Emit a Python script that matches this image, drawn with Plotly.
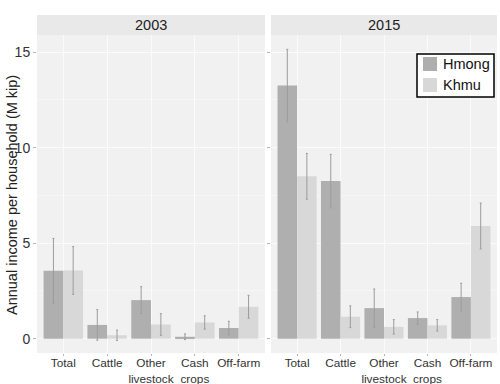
import plotly.graph_objects as go
from plotly.subplots import make_subplots

categories = ["Total", "Cattle", "Other<br>livestock", "Cash<br>crops", "Off-farm"]
years = ["2003", "2015"]
groups = ["Hmong", "Khmu"]

hmong_2003 = [3.55, 0.72, 2.02, 0.1, 0.56]
hmong_2003_err = [1.7, 0.8, 0.7, 0.15, 0.35]
khmu_2003 = [3.57, 0.18, 0.74, 0.85, 1.67]
khmu_2003_err = [1.25, 0.27, 0.57, 0.35, 0.6]

hmong_2015 = [13.25, 8.25, 1.6, 1.08, 2.18]
hmong_2015_err = [1.9, 1.4, 1.0, 0.32, 0.72]
khmu_2015 = [8.5, 1.15, 0.62, 0.7, 5.9]
khmu_2015_err = [1.2, 0.57, 0.38, 0.3, 1.2]

HM_COL = "#afafaf"
KH_COL = "#d8d8d8"
ERR_COL = "#9c9c9c"
PANEL_BG = "#f1f1f1"
STRIP_BG = "#e9e9e9"
FONT = "Liberation Sans, Arial, sans-serif"

fig = make_subplots(rows=1, cols=2, shared_yaxes=True, horizontal_spacing=0.01)

series = [
    (hmong_2003, hmong_2003_err, khmu_2003, khmu_2003_err, 1),
    (hmong_2015, hmong_2015_err, khmu_2015, khmu_2015_err, 2),
]
for hv, he, kv, ke, col in series:
    fig.add_trace(go.Bar(x=categories, y=hv, name=groups[0], marker=dict(color=HM_COL, line_width=0),
                         error_y=dict(type="data", array=he, color=ERR_COL, thickness=1, width=1),
                         showlegend=False), row=1, col=col)
    fig.add_trace(go.Bar(x=categories, y=kv, name=groups[1], marker=dict(color=KH_COL, line_width=0),
                         error_y=dict(type="data", array=ke, color=ERR_COL, thickness=1, width=1),
                         showlegend=False), row=1, col=col)

x1 = [37 / 500, 265 / 500]
x2 = [271 / 500, 497 / 500]
ydom = [1 - 353 / 384, 1 - 35 / 384]

axis_common = dict(showgrid=True, gridcolor="#fbfbfb", gridwidth=1, zeroline=False, automargin=False,
                   ticks="outside", ticklen=2, tickcolor="#b5b5b5", showline=False,
                   ticklabelstandoff=-3,
                   tickfont=dict(family=FONT, size=11.8, color="#333333"))
fig.update_xaxes(**axis_common, range=[-0.6, 4.6], type="category")
fig.update_layout(xaxis=dict(domain=x1), xaxis2=dict(domain=x2))
yax = dict(showgrid=True, gridcolor="#fbfbfb", gridwidth=1, zeroline=False, automargin=False,
           ticks="outside", ticklen=3, tickcolor="#b5b5b5", showline=False,
           range=[-0.75, 15.9], tickvals=[0, 5, 10, 15], domain=ydom,
           minor=dict(tickvals=[2.5, 7.5, 12.5], showgrid=True, gridcolor="#f6f6f6", gridwidth=0.8))
fig.update_layout(yaxis=dict(**yax, tickfont=dict(family=FONT, size=14, color="#333333")),
                  yaxis2=dict(**yax, showticklabels=False, matches="y"))

shapes = []
annotations = []
for dom, yr in [(x1, years[0]), (x2, years[1])]:
    shapes.append(dict(type="rect", xref="paper", yref="paper", x0=dom[0], x1=dom[1],
                       y0=ydom[1], y1=1 - 15 / 384, fillcolor=STRIP_BG, line_width=0, layer="below"))
    annotations.append(dict(text=yr, xref="paper", yref="paper", x=(dom[0] + dom[1]) / 2,
                            y=1 - 25 / 384, showarrow=False, xanchor="center", yanchor="middle",
                            font=dict(family=FONT, size=14.5, color="#222222")))
annotations.append(dict(text="Annual income per household (M kip)", xref="paper", yref="paper",
                        x=12 / 500, y=1 - 195 / 384, textangle=-90, showarrow=False,
                        xanchor="center", yanchor="middle",
                        font=dict(family=FONT, size=14.5, color="#222222")))


def px_x(v):
    return v / 500


def px_y(v):
    return 1 - v / 384


shapes.append(dict(type="rect", xref="paper", yref="paper", x0=px_x(417), x1=px_x(494),
                   y0=px_y(97), y1=px_y(54), fillcolor="white", line=dict(color="black", width=1.5)))
for i, (name, colr) in enumerate([(groups[0], HM_COL), (groups[1], KH_COL)]):
    top = 57 + i * 21
    shapes.append(dict(type="rect", xref="paper", yref="paper", x0=px_x(423), x1=px_x(437),
                       y0=px_y(top + 14), y1=px_y(top), fillcolor=colr, line_width=0))
    annotations.append(dict(text=name, xref="paper", yref="paper", x=px_x(441), y=px_y(top + 7),
                            showarrow=False, xanchor="left", yanchor="middle",
                            font=dict(family=FONT, size=14.5, color="#111111")))

fig.update_layout(
    width=500, height=384,
    margin=dict(l=0, r=0, t=0, b=0, autoexpand=False),
    paper_bgcolor="white", plot_bgcolor=PANEL_BG,
    barmode="group", bargap=0.1, bargroupgap=0,
    font=dict(family=FONT),
    shapes=shapes, annotations=annotations,
    showlegend=False,
)

fig.write_html("out.html", config={"displayModeBar": False},
               post_script="document.body.style.margin='0';")
